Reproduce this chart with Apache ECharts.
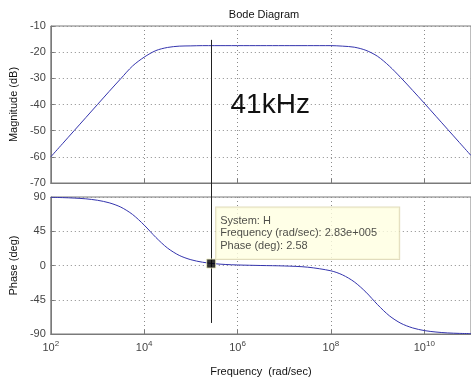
<!DOCTYPE html>
<html>
<head>
<meta charset="utf-8">
<script src="https://cdn.jsdelivr.net/npm/echarts@6/dist/echarts.min.js"></script>
<style>
  html, body { margin: 0; padding: 0; background: #fff; }
  #chart { width: 471px; height: 378px; }
</style>
</head>
<body>
<div id="chart"></div>
<script>
// frequency as log10(rad/sec), every quarter decade
const freqExp = [2, 2.25, 2.5, 2.75, 3, 3.25, 3.5, 3.75, 4, 4.25, 4.5, 4.75, 5, 5.25, 5.5, 5.75,
  6, 6.5, 7, 7.5, 8, 8.25, 8.5, 8.75, 9, 9.25, 9.5, 9.75, 10, 10.25, 10.5, 10.75, 11];
const magnitudeDb = [-60, -55, -50, -45, -40, -35, -30.1, -25.3, -21.9, -19.4, -18.2, -17.7, -17.6, -17.5, -17.5, -17.5,
  -17.5, -17.5, -17.5, -17.5, -17.5, -17.7, -18.1, -19.3, -21.6, -25.3, -29.8, -34.6, -39.5, -44.5, -49.5, -54.5, -59.5];
const phaseDeg = [89.6, 89.2, 88.6, 87.6, 85.7, 82.4, 76.7, 67.1, 53.1, 36.9, 22.9, 13.3, 7.6, 4.3, 2.4, 1.3,
  0.7, 0, -0.6, -2.2, -7, -12.4, -21.5, -35, -51.5, -66, -76, -82, -85.5, -87.4, -88.6, -89.2, -89.5];

const xTickExp = [2, 4, 6, 8, 10];
const magTicks = [-70, -60, -50, -40, -30, -20, -10];
const phaseTicks = [-90, -45, 0, 45, 90];

// data cursor
const cursorExp = 5.435;
const cursorPhase = 2.58;
const cursorMagTop = -15.3;
const cursorPhaseBottom = -75.5;

const FONT = '"Liberation Sans", Arial, sans-serif';
const gridLine = { show: true, lineStyle: { color: '#8a8a8a', type: [1, 3], width: 1 } };
const frame = { show: true, onZero: false, lineStyle: { color: '#7a7a7a', width: 1 } };

function xAxis(gridIndex, showLabels) {
  return {
    type: 'value', gridIndex,
    min: xTickExp[0], max: 11, interval: 2,
    axisLine: frame,
    axisTick: { show: true, inside: true, length: 4, lineStyle: { color: '#7a7a7a' } },
    splitLine: gridLine,
    axisLabel: {
      show: showLabels, margin: 6, color: '#444', fontFamily: FONT,
      showMaxLabel: false,
      formatter: v => xTickExp.includes(v) ? '10{sup|' + v + '}' : '',
      rich: { sup: { fontSize: 8, padding: [0, 0, 8, 0], color: '#444', fontFamily: FONT } },
      fontSize: 11
    },
    name: showLabels ? 'Frequency  (rad/sec)' : '',
    nameLocation: 'middle', nameGap: 32,
    nameTextStyle: { color: '#111', fontSize: 11, fontFamily: FONT }
  };
}

function yAxis(gridIndex, ticks, name) {
  return {
    type: 'value', gridIndex,
    min: ticks[0], max: ticks[ticks.length - 1], interval: ticks[1] - ticks[0],
    axisLine: frame,
    axisTick: { show: true, inside: true, length: 4, lineStyle: { color: '#7a7a7a' } },
    splitLine: gridLine,
    axisLabel: { color: '#444', fontSize: 11, fontFamily: FONT, margin: 5 },
    name, nameLocation: 'middle', nameRotate: 90, nameGap: 29,
    nameTextStyle: { color: '#111', fontSize: 11, fontFamily: FONT }
  };
}

const chart = echarts.init(document.getElementById('chart'), null, { renderer: 'canvas' });

chart.setOption({
  animation: false,
  backgroundColor: '#fff',
  title: {
    text: 'Bode Diagram', left: 259, top: 4, textAlign: 'center',
    textStyle: { fontSize: 11, fontWeight: 'normal', color: '#111', fontFamily: FONT }
  },
  grid: [
    { left: 48, right: -1, top: 26, height: 157, show: true, borderColor: '#7a7a7a', borderWidth: 1 },
    { left: 48, right: -1, top: 197, height: 137, show: true, borderColor: '#7a7a7a', borderWidth: 1 }
  ],
  xAxis: [xAxis(0, false), xAxis(1, true)],
  yAxis: [yAxis(0, magTicks, 'Magnitude (dB)'), yAxis(1, phaseTicks, 'Phase (deg)')],
  series: [
    {
      type: 'line', xAxisIndex: 0, yAxisIndex: 0, smooth: 0.3, showSymbol: false,
      data: freqExp.map((e, i) => [e, magnitudeDb[i]]),
      lineStyle: { color: '#3434ad', width: 1 }
    },
    {
      type: 'line', xAxisIndex: 1, yAxisIndex: 1, smooth: 0.3, showSymbol: false,
      data: freqExp.map((e, i) => [e, phaseDeg[i]]),
      lineStyle: { color: '#3434ad', width: 1 }
    },
    {
      type: 'scatter', xAxisIndex: 1, yAxisIndex: 1, z: 10,
      symbol: 'rect', symbolSize: 9,
      itemStyle: { color: '#000', borderColor: '#efefc0', borderWidth: 1 },
      data: [[cursorExp, cursorPhase]],
      label: {
        show: true, position: [10, -51],
        formatter: 'System: H\nFrequency (rad/sec): 2.83e+005\nPhase (deg): 2.58',
        color: '#222', fontSize: 11, fontFamily: FONT, lineHeight: 12.5,
        width: 175, align: 'left',
        backgroundColor: '#ffffe1', borderColor: '#d9d3ad', borderWidth: 1,
        padding: [7, 4, 7, 4]
      }
    }
  ]
});

const cursorTopPx = chart.convertToPixel({ xAxisIndex: 0, yAxisIndex: 0 }, [cursorExp, cursorMagTop]);
const cursorBottomPx = chart.convertToPixel({ xAxisIndex: 1, yAxisIndex: 1 }, [cursorExp, cursorPhaseBottom]);
const labelPx = chart.convertToPixel({ xAxisIndex: 0, yAxisIndex: 0 }, [5.85, -40.3]);
const lineX = Math.round(cursorTopPx[0]) + 0.5;

chart.setOption({
  graphic: [
    {
      type: 'line', z: 5,
      shape: { x1: lineX, y1: cursorTopPx[1], x2: lineX, y2: cursorBottomPx[1] },
      style: { stroke: '#222', lineWidth: 1 }
    },
    {
      type: 'text', z: 5, x: labelPx[0], y: labelPx[1],
      style: { text: '41kHz', fill: '#111', fontSize: 28, fontFamily: FONT, textVerticalAlign: 'middle' }
    }
  ]
});
</script>
</body>
</html>
